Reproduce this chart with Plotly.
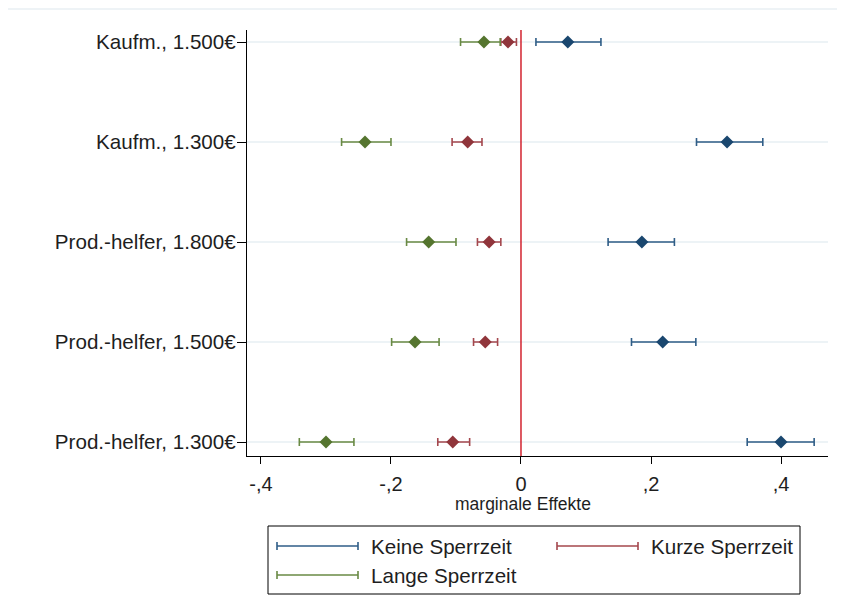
import plotly.graph_objects as go

# ---- data ----
categories = ["Prod.-helfer, 1.300€", "Prod.-helfer, 1.500€", "Prod.-helfer, 1.800€",
              "Kaufm., 1.300€", "Kaufm., 1.500€"]

keine_est = [0.400, 0.218, 0.186, 0.317, 0.072]
keine_lo = [0.348, 0.170, 0.134, 0.270, 0.023]
keine_hi = [0.451, 0.269, 0.236, 0.372, 0.123]

kurze_est = [-0.105, -0.055, -0.049, -0.082, -0.020]
kurze_lo = [-0.128, -0.073, -0.067, -0.106, -0.031]
kurze_hi = [-0.079, -0.036, -0.031, -0.060, -0.007]

lange_est = [-0.300, -0.163, -0.142, -0.240, -0.057]
lange_lo = [-0.341, -0.199, -0.176, -0.276, -0.093]
lange_hi = [-0.257, -0.126, -0.100, -0.200, -0.032]

x_tickvals = [-0.4, -0.2, 0, 0.2, 0.4]
x_ticktext = ["-,4", "-,2", "0", ",2", ",4"]

series = [
    ("Keine Sperrzeit", keine_est, keine_lo, keine_hi, "#1a476f", "#2f5d87"),
    ("Kurze Sperrzeit", kurze_est, kurze_lo, kurze_hi, "#90353b", "#a4474d"),
    ("Lange Sperrzeit", lange_est, lange_lo, lange_hi, "#55752f", "#698a44"),
]

FONT = "Liberation Sans, Arial, sans-serif"
TXT = "#1e1e1e"
OFF = 8  # page body margin
W, H = 837, 607
ML, MR, MT, MB = 239, 17, 22, 159
PW, PH = W - ML - MR, H - MT - MB


def px(x):  # page pixel -> paper
    return (x - OFF - ML) / PW


def py(y):
    return (H - MB - (y - OFF)) / PH


fig = go.Figure()
for name, est, lo, hi, mcol, lcol in series:
    fig.add_trace(go.Scatter(
        x=est, y=categories, mode="markers", name=name, showlegend=False,
        marker=dict(symbol="diamond", size=10, color=mcol),
        error_x=dict(type="data", symmetric=False,
                     array=[h - e for h, e in zip(hi, est)],
                     arrayminus=[e - l for e, l in zip(est, lo)],
                     color=lcol, thickness=1.6, width=4),
    ))

shapes = []
# vertical reference line at 0
shapes.append(dict(type="line", xref="x", yref="paper", x0=0, x1=0, y0=0, y1=1,
                   line=dict(color="#d2232f", width=1.5), layer="above"))
# faint top border line
shapes.append(dict(type="line", xref="paper", yref="paper", x0=px(8), x1=px(845),
                   y0=py(9), y1=py(9), line=dict(color="#eef3f6", width=2)))
# legend box
shapes.append(dict(type="rect", xref="paper", yref="paper", x0=px(268), x1=px(800),
                   y0=py(594), y1=py(526), line=dict(color="#000000", width=1),
                   fillcolor="white"))

annotations = []
legend_pos = [(277, 358, 546, 369), (557, 638, 546, 649), (277, 358, 575, 369)]
for (name, est, lo, hi, mcol, lcol), (x0, x1, yy, tx) in zip(series, legend_pos):
    shapes.append(dict(type="line", xref="paper", yref="paper", x0=px(x0), x1=px(x1),
                       y0=py(yy), y1=py(yy), line=dict(color=lcol, width=1.6)))
    for xc in (x0, x1):
        shapes.append(dict(type="line", xref="paper", yref="paper", x0=px(xc), x1=px(xc),
                           y0=py(yy - 4), y1=py(yy + 4), line=dict(color=lcol, width=1.6)))
    annotations.append(dict(text=name, xref="paper", yref="paper", x=px(tx), y=py(yy),
                            xanchor="left", yanchor="middle", showarrow=False,
                            font=dict(family=FONT, size=20.6, color=TXT)))

annotations.append(dict(text="marginale Effekte", xref="paper", yref="paper",
                        x=px(523), y=py(504), xanchor="center", yanchor="middle",
                        showarrow=False, font=dict(family=FONT, size=17.5, color=TXT)))

fig.update_layout(
    width=W, height=H,
    margin=dict(l=ML, r=MR, t=MT, b=MB),
    paper_bgcolor="white", plot_bgcolor="white",
    font=dict(family=FONT, size=20, color=TXT),
    shapes=shapes, annotations=annotations,
    showlegend=False,
)
fig.update_xaxes(
    range=[-0.4215, 0.4723], tickvals=x_tickvals, ticktext=x_ticktext,
    showgrid=False, zeroline=False, showline=True, linecolor="#000000", linewidth=1.3,
    ticks="outside", ticklen=7, tickcolor="#000000", tickwidth=1.3,
    tickfont=dict(family=FONT, size=20, color=TXT), ticklabelstandoff=3,
)
fig.update_yaxes(
    type="category", categoryorder="array", categoryarray=categories,
    range=[-0.14, 4.12],
    showgrid=True, gridcolor="#edf3f6", gridwidth=1.5, zeroline=False,
    showline=True, linecolor="#000000", linewidth=1.3,
    ticks="outside", ticklen=9, tickcolor="#000000", tickwidth=1.3,
    tickfont=dict(family=FONT, size=20.6, color=TXT), ticklabelstandoff=-3,
)

fig.write_html("out.html")
